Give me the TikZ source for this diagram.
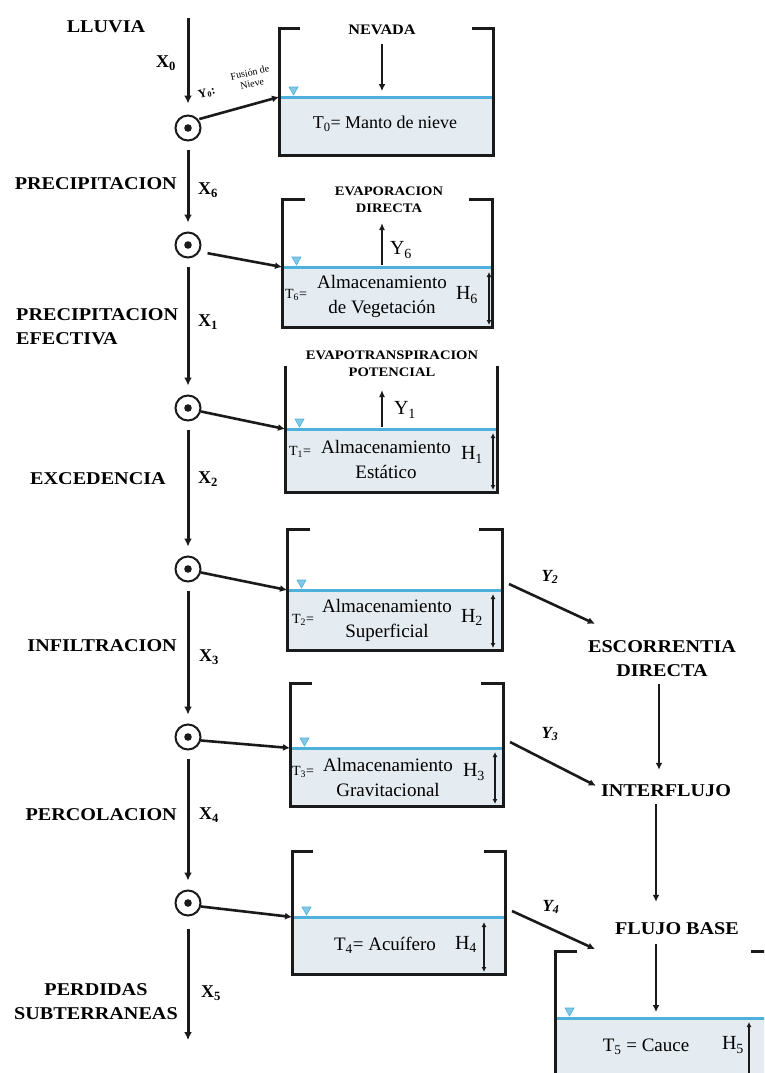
\documentclass[tikz,border=0pt]{standalone}
\usepackage{fontspec}
\setmainfont{Liberation Serif}
\newfontfamily\capsfont[FakeStretch=1.12]{Liberation Serif}
\usetikzlibrary{arrows.meta}
\definecolor{ink}{HTML}{1A1A1A}
\definecolor{surf}{HTML}{4DB1DC}
\definecolor{pool}{HTML}{E4ECF1}

\begin{document}
\begin{tikzpicture}[x=1pt,y=-1pt,>=Latex,
  lbl/.style={font=\capsfont\bfseries\fontsize{18}{24}\selectfont,inner sep=1pt},
  hdr/.style={font=\capsfont\bfseries\fontsize{13}{17}\selectfont,inner sep=1pt,align=center},
  xlbl/.style={font=\bfseries\fontsize{18}{20}\selectfont,inner sep=1pt},
  ylbl/.style={font=\bfseries\itshape\fontsize{17}{20}\selectfont,inner sep=1pt},
  store/.style={font=\fontsize{19}{25}\selectfont,inner sep=1pt,align=center},
  tsmall/.style={font=\fontsize{14}{16}\selectfont,inner sep=1pt},
  sym/.style={font=\fontsize{20}{22}\selectfont,inner sep=1pt},
  junction/.style={circle,draw=ink,line width=2pt,minimum size=25pt,inner sep=0pt},
  flow/.style={draw=ink,line width=3pt,-{Latex[length=8pt,width=8pt]}},
  feed/.style={draw=ink,line width=2.6pt,-{Latex[length=7pt,width=7pt]}},
  rise/.style={draw=ink,line width=2pt,-{Latex[length=7pt,width=6pt]}},
  depth/.style={draw=ink,line width=1.8pt,{Latex[length=5pt,width=5pt]}-{Latex[length=5pt,width=5pt]}},
  wall/.style={draw=ink,line width=3pt}]
  \useasboundingbox (0,0) rectangle (764,1073);
  \clip (0,0) rectangle (764,1073);

  % tanks
  \foreach \l/\r/\t/\w/\b/\k [count=\n from 0] in
    {279/493/29/97/155/21, 282/492/199/267/327/23, 285/497/366/429/492/0,
     287/502/529/590/650/23, 290/503/683/748/806/22, 292/505/851/917/974/21,
     555/773/951/1018/1090/22}{
    \fill[pool] (\l,\w) rectangle (\r,\b);
    \draw[surf,line width=3pt] (\l,\w) -- (\r,\w);
    \filldraw[surf!70,draw=surf,line width=.6pt]
      (\l+10,\w-10) -- (\l+19,\w-10) -- (\l+14.5,\w-2) -- cycle;
    \draw[wall] (\l+\k,\t) -- (\l,\t) -- (\l,\b) -- (\r,\b) -- (\r,\t) -- (\r-\k,\t);
    \coordinate (in\n) at (\l,\w);
    \coordinate (out\n) at (\r+7,\w-6);
  }

  % junctions on the main column
  \foreach \y [count=\n from 0] in {128,245,408,569,737,903}{
    \node[junction] (c\n) at (188,\y) {};
    \fill[ink] (c\n) circle (3.8);
  }
  \coordinate (rain) at (188,18);
  \coordinate (sink) at (188,1040);
  \draw[flow,shorten >=11pt] (rain) -- (c0.north);
  \foreach \i/\j in {0/1,1/2,2/3,3/4,4/5}
    \draw[flow,shorten <=8pt,shorten >=9pt] (c\i.south) -- (c\j.north);
  \draw[flow,shorten <=12pt] (c5.south) -- (sink);

  % feeds into the tanks
  \draw[feed,shorten <=1pt] (c0.40) -- (in0);
  \draw[feed,shorten <=8pt] (c1.-30) -- (in1);
  \foreach \n in {2,...,5}
    \draw[feed] (c\n.-15) -- (in\n);
  \node[font=\bfseries\fontsize{12}{13}\selectfont,rotate=15] (y0) at (207,93)
    {Y\textsubscript{0}:};
  \node[font=\fontsize{10}{11}\selectfont,align=center,rotate=12] (melt) at (251,78)
    {Fusión de\\Nieve};

  % left labels
  \node[lbl] (lluvia) at (106,27) {LLUVIA};
  \node[lbl,anchor=east] (prec) at (178,184) {PRECIPITACION};
  \node[lbl,anchor=west,align=left] (pe) at (15,327) {PRECIPITACION\\EFECTIVA};
  \node[lbl] (exc) at (98,479) {EXCEDENCIA};
  \node[lbl,anchor=east] (inf) at (178,646) {INFILTRACION};
  \node[lbl,anchor=east] (perc) at (178,815) {PERCOLACION};
  \node[lbl,align=center] (perd) at (96,1002) {PERDIDAS\\SUBTERRANEAS};
  \node[xlbl] (x0) at (166,63) {X\textsubscript{0}};
  \node[xlbl] (x6) at (208,190) {X\textsubscript{6}};
  \node[xlbl] (x1) at (208,322) {X\textsubscript{1}};
  \node[xlbl] (x2) at (208,479) {X\textsubscript{2}};
  \node[xlbl] (x3) at (209,657) {X\textsubscript{3}};
  \node[xlbl] (x4) at (209,815) {X\textsubscript{4}};
  \node[xlbl] (x5) at (211,993) {X\textsubscript{5}};

  % snow pack
  \node[hdr,font=\capsfont\bfseries\fontsize{14.5}{17}\selectfont] (nevada) at (382,30) {NEVADA};
  \coordinate (snow) at (382,91);
  \draw[feed,shorten <=8pt] (nevada.south) -- (snow);
  \node[store,font=\fontsize{18}{20}\selectfont] (t0) at (385,124) {T\textsubscript{0}= Manto de nieve};

  % vegetation
  \node[hdr] (evap) at (389,200) {EVAPORACION\\DIRECTA};
  \coordinate (w1) at (382,265);
  \coordinate (e1) at (382,223);
  \draw[rise] (w1) -- (e1);
  \node[sym] (y6) at (401,250) {Y\textsubscript{6}};
  \node[tsmall] (t6) at (296,295) {T\textsubscript{6}=};
  \node[store] (veg) at (382,296) {Almacenamiento\\de Vegetación};
  \node[sym] (h6) at (467,295) {H\textsubscript{6}};
  \draw[depth] (489,272) -- (489,325);

  % static storage
  \node[hdr] (evtp) at (392,364) {EVAPOTRANSPIRACION\\POTENCIAL};
  \coordinate (w2) at (382,427);
  \coordinate (e2) at (382,390);
  \draw[rise] (w2) -- (e2);
  \node[sym] (y1) at (405,410) {Y\textsubscript{1}};
  \node[tsmall] (t1) at (300,452) {T\textsubscript{1}=};
  \node[store] (stat) at (386,459) {Almacenamiento\\Estático};
  \node[sym] (h1) at (472,455) {H\textsubscript{1}};
  \draw[depth] (493,433) -- (493,490);

  % surface storage
  \node[tsmall] (t2) at (303,620) {T\textsubscript{2}=};
  \node[store] (sup) at (387,620) {Almacenamiento\\Superficial};
  \node[sym] (h2) at (472,617) {H\textsubscript{2}};
  \draw[depth] (493,594) -- (493,648);

  % gravitational storage
  \node[tsmall] (t3) at (303,772) {T\textsubscript{3}=};
  \node[store] (grav) at (388,777) {Almacenamiento\\Gravitacional};
  \node[sym] (h3) at (474,772) {H\textsubscript{3}};
  \draw[depth] (495,752) -- (495,804);

  % aquifer
  \node[store] (aq) at (385,945) {T\textsubscript{4}= Acuífero};
  \node[sym] (h4) at (466,944) {H\textsubscript{4}};
  \draw[depth] (484,922) -- (484,972);

  % channel
  \node[store] (cauce) at (646,1047) {T\textsubscript{5} = Cauce};
  \node[sym] (h5) at (733,1045) {H\textsubscript{5}};
  \draw[depth] (749,1022) -- (749,1082);

  % runoff side
  \node[lbl,align=center] (esc) at (662,659) {ESCORRENTIA\\DIRECTA};
  \node[lbl] (intf) at (666,791) {INTERFLUJO};
  \node[lbl] (fb) at (677,929) {FLUJO BASE};
  \coordinate (cw) at (656,1012);
  \draw[feed,shorten <=6pt,shorten >=14pt] ([xshift=-3pt]esc.south) -- ([xshift=-7pt]intf.north);
  \draw[feed,shorten <=6pt,shorten >=20pt] ([xshift=-10pt]intf.south) -- ([xshift=-21pt]fb.north);
  \draw[feed,shorten <=8pt] ([xshift=-21pt]fb.south) -- (cw);
  \draw[feed] (out3) -- ([xshift=8pt,yshift=16pt]esc.north west);
  \draw[feed] (out4) -- ([xshift=-4pt,yshift=-2pt]intf.north west);
  \draw[feed] (out5) -- ([xshift=-19pt,yshift=-20pt]fb.west);
  \node[ylbl] (y2) at (550,577) {Y\textsubscript{2}};
  \node[ylbl] (y3) at (550,734) {Y\textsubscript{3}};
  \node[ylbl] (y4) at (551,907) {Y\textsubscript{4}};
\end{tikzpicture}
\end{document}
